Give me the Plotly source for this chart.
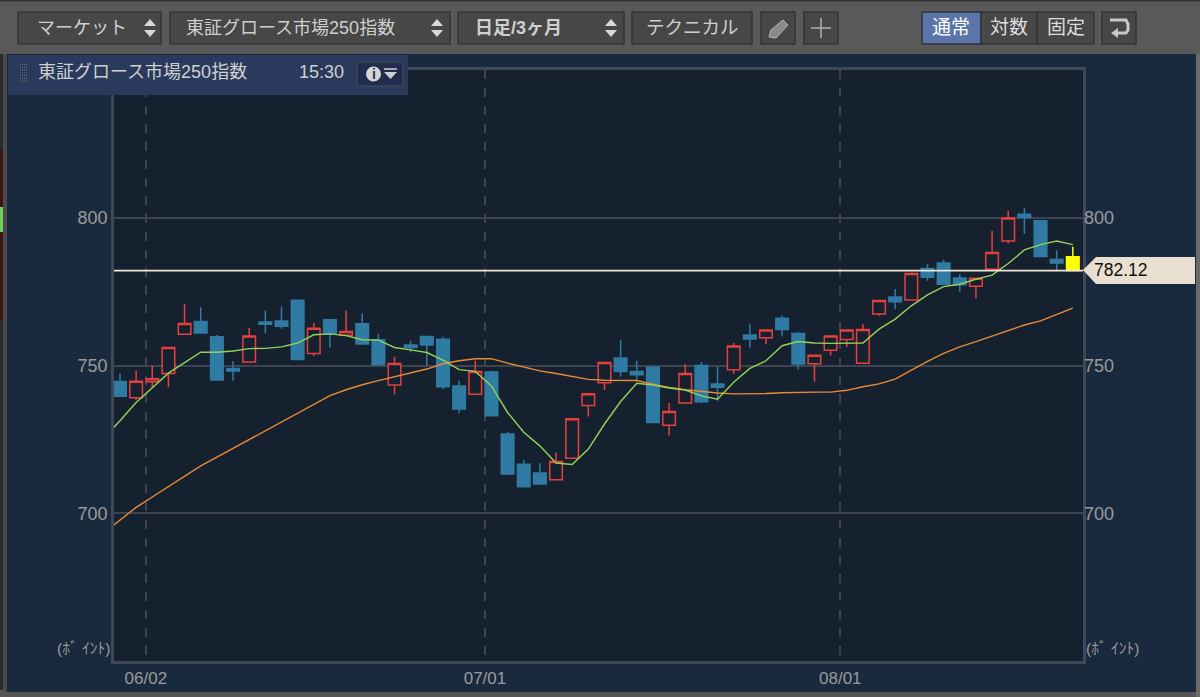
import plotly.graph_objects as go

W, H = 1200, 697

# x is the bar number, 0 = oldest bar
bars = list(range(60))
opens = [744.6, 739.1, 744.5, 747.3, 760.6, 764.9, 759.7, 749.0, 751.2, 764.7,
         765.1, 772.1, 754.1, 765.5, 760.2, 764.1, 758.7, 743.4, 756.9, 759.8,
         758.9, 743.1, 740.3, 747.8, 726.8, 716.6, 713.6, 711.3, 718.6, 736.5,
         744.2, 752.5, 748.0, 749.4, 729.8, 737.3, 750.0, 743.7, 748.6, 760.3,
         759.4, 766.0, 760.8, 750.6, 755.2, 758.8, 750.8, 767.4, 773.2, 772.2,
         782.8, 784.7, 779.6, 776.8, 782.6, 792.1, 801.2, 799.0, 785.9, 786.8]
highs = [747.3, 748.2, 749.8, 756.1, 770.8, 769.7, 760.3, 751.4, 762.7, 768.5,
         769.9, 772.1, 764.4, 765.5, 768.5, 767.7, 760.6, 753.0, 758.4, 759.8,
         759.7, 744.8, 751.6, 748.2, 727.6, 718.0, 716.9, 720.6, 732.0, 740.4,
         751.0, 758.7, 751.6, 749.4, 737.3, 750.5, 751.2, 749.6, 757.6, 764.2,
         762.0, 766.8, 761.4, 753.5, 760.0, 762.0, 764.0, 772.0, 775.9, 781.5,
         784.3, 785.8, 781.0, 779.5, 795.6, 802.4, 803.3, 799.0, 789.0, 790.2]
lows = [739.6, 738.3, 742.6, 742.6, 760.6, 761.0, 745.1, 744.8, 751.2, 760.9,
        762.4, 752.0, 753.2, 756.1, 760.2, 757.3, 749.8, 740.3, 754.4, 749.9,
        741.9, 733.8, 740.3, 733.0, 713.3, 709.0, 709.9, 711.3, 718.6, 732.7,
        741.7, 746.2, 744.8, 730.7, 726.3, 737.3, 737.2, 738.1, 747.1, 756.1,
        757.2, 759.8, 748.7, 744.5, 753.4, 756.3, 750.8, 766.8, 769.0, 772.0,
        778.7, 777.5, 775.0, 772.7, 782.3, 791.3, 794.5, 786.9, 782.3, 782.12]
closes = [739.6, 744.7, 745.5, 756.1, 764.2, 761.0, 745.1, 748.1, 760.0, 764.0,
          763.3, 752.0, 762.6, 760.6, 761.5, 757.3, 750.3, 750.7, 756.1, 756.9,
          742.8, 735.3, 748.0, 733.0, 713.3, 709.0, 709.9, 717.5, 732.0, 740.4,
          751.0, 748.0, 746.9, 730.7, 734.4, 747.3, 737.7, 742.6, 756.6, 759.0,
          762.0, 762.2, 750.5, 753.5, 760.0, 762.0, 762.2, 772.0, 771.6, 781.1,
          779.9, 777.5, 777.3, 779.5, 788.2, 799.9, 800.1, 786.9, 784.7, 782.12]

# moving averages start one bar before the window so they run off the left edge
ma_x = list(range(-1, 60))
ma_short = [725.5, 731.3, 737.5, 742.4, 747.4, 751.0, 754.5, 754.5, 754.9, 755.7, 755.8,
            756.3, 757.6, 760.4, 760.7, 760.1, 758.7, 758.6, 756.1, 755.3, 754.4,
            751.8, 748.6, 748.0, 743.1, 734.1, 727.4, 722.8, 717.0, 716.5, 721.7,
            730.2, 737.8, 744.0, 743.4, 742.4, 741.7, 739.7, 738.6, 744.3, 749.0,
            751.6, 756.7, 758.1, 757.6, 757.5, 757.6, 757.6, 762.3, 765.7, 770.2,
            773.9, 776.7, 777.5, 779.2, 780.6, 784.5, 789.1, 790.9, 792.1, 790.9]
ma_long = [693.3, 697.5, 702.0, 705.5, 709.0, 712.5, 716.0, 719.0, 722.0, 725.0, 727.8,
           730.8, 734.0, 737.0, 739.8, 741.8, 743.5, 744.9, 746.2, 747.3, 748.8,
           750.6, 751.6, 752.3, 752.3, 750.8, 749.6, 748.2, 747.3, 746.3, 745.3,
           745.0, 745.0, 744.9, 743.7, 742.6, 741.8, 741.2, 740.7, 740.4, 740.4,
           740.5, 740.8, 741.0, 741.0, 741.0, 741.6, 742.8, 743.8, 745.4, 748.4,
           751.4, 754.1, 756.3, 758.1, 760.0, 761.8, 763.7, 765.1, 767.3, 769.4]

last_price = 782.12
y_ticks = [700, 750, 800]
month_pos = [1.6, 22.6, 44.6]
month_labels = ["06/02", "07/01", "08/01"]

FONT = "Liberation Sans, Noto Sans CJK JP, sans-serif"
PLOT_BG = "#15212f"
PANEL_BG = "#1a2a3e"
BAR_BG = "#595959"
BTN = "#474747"
BTN_EDGE = "#343434"
BLUE = "#2f7ba3"
RED = "#e5403f"
GREY = "#9a9a9a"
FRAME = "#3f4858"
GRID = "#3d4450"


def px(x):
    return x / W


def py(y):
    return 1 - y / H


shapes = []
notes = []


def rect(x0, y0, x1, y1, fill, edge=None, width=1, layer="below"):
    shapes.append(dict(type="rect", xref="paper", yref="paper", x0=px(x0), x1=px(x1), y0=py(y1), y1=py(y0),
                       fillcolor=fill, line=dict(color=edge or fill, width=width if edge else 0), layer=layer))


def poly(points, fill="rgba(0,0,0,0)", edge=None, width=1.5, layer="above", close=True):
    path = "M " + " L ".join(f"{px(a):.5f},{py(b):.5f}" for a, b in points)
    if close:
        path += " Z"
    shapes.append(dict(type="path", xref="paper", yref="paper", path=path, fillcolor=fill,
                       line=dict(color=edge or "rgba(0,0,0,0)", width=width if edge else 0), layer=layer))


def text(x, y, s, size=18, color="#cfcfcf", anchor="left", weight=None):
    label = f"<b>{s}</b>" if weight else s
    notes.append(dict(xref="paper", yref="paper", x=px(x), y=py(y), text=label, showarrow=False, xanchor=anchor,
                      yanchor="middle", font=dict(family=FONT, size=size, color=color)))


def updown(cx, cy):
    poly([(cx - 6, cy - 2), (cx + 6, cy - 2), (cx, cy - 9)], fill="#d8d8d8")
    poly([(cx - 6, cy + 2), (cx + 6, cy + 2), (cx, cy + 9)], fill="#d8d8d8")


# window pieces
rect(0, 0, W, H, "#555555")
rect(0, 54, 3, 690, "#2b2c2e")
rect(0, 150, 3, 320, "#3d1516")
rect(0, 207, 3, 232, "#6fd05a")
rect(3, 54, 8, 692, "#4a4a4a")
rect(1196, 54, W, H, "#6a6a6a")
rect(7, 54, 1196, 692, PANEL_BG)
rect(114, 70, 1083, 661, PLOT_BG)
rect(0, 0, W, 54, BAR_BG)
rect(0, 0, W, 1.5, "#333333")

# toolbar
for x0, x1 in [(18, 161), (170, 450), (458, 624), (632, 752), (761, 795), (804, 838), (1102, 1136)]:
    rect(x0, 12, x1, 44, BTN, BTN_EDGE, 1.5)
rect(922, 12, 981, 44, "#5b75a8", BTN_EDGE, 1.5)
rect(981, 12, 1037, 44, BTN, BTN_EDGE, 1.5)
rect(1037, 12, 1094, 44, BTN, BTN_EDGE, 1.5)

text(35, 28, "マーケット", 18)
updown(150, 28)
text(184, 28, "東証グロース市場250指数", 18)
updown(437, 28)
text(473, 28, "日足/3ヶ月", 18, weight=True)
updown(611, 28)
text(692, 28, "テクニカル", 18.5, anchor="center")
text(951, 28, "通常", 19, color="#ffffff", anchor="center")
text(1009, 28, "対数", 19, color="#dddddd", anchor="center")
text(1066, 28, "固定", 19, color="#dddddd", anchor="center")

poly([(769, 37), (771, 30), (783, 20), (788, 25), (776, 38)], fill="#8a8a8a", edge="#b5b5b5", width=1)
poly([(821, 18), (821, 38)], edge="#b0b0b0", close=False)
poly([(811, 28), (831, 28)], edge="#b0b0b0", close=False)
poly([(1110, 20), (1126, 20), (1128, 24), (1128, 30), (1126, 33), (1118, 33)], edge="#c8c8c8", width=3, close=False)
poly([(1118, 28), (1118, 38), (1111, 33)], fill="#c8c8c8")

# legend tab over the chart frame
rect(8, 55, 408, 95, "#2a3a5c", layer="above")
for row in range(7):
    for col in range(4):
        rect(20 + col * 2, 64 + row * 2.8, 21 + col * 2, 65 + row * 2.8, "#6b7688", layer="above")
text(36, 72, "東証グロース市場250指数", 18)
text(297, 72, "15:30", 18)
rect(357, 62, 403, 86, "#222d4e", "#3c4558", 1.5, layer="above")
shapes.append(dict(type="circle", xref="paper", yref="paper", x0=px(366), x1=px(381), y0=py(81.5), y1=py(66.5),
                   fillcolor="#d5d5d5", line=dict(width=0), layer="above"))
text(373.5, 74, "<b>i</b>", 14, color="#222d4e", anchor="center")
poly([(384, 69), (397, 69)], edge="#d0d0d0", width=1.5, close=False)
poly([(384, 72), (397, 72), (390.5, 79)], fill="#d0d0d0")

# price flag on the right
poly([(1083, 270), (1096, 257), (1195, 257), (1195, 284), (1096, 284)], fill="#e9dfd0")
text(1092, 270, f"{last_price:.2f}", 17.5, color="#111111")

# unit labels
text(112, 648, "(ﾎﾞ ｲﾝﾄ)", 15.5, color=GREY, anchor="right")
text(1084, 648, "(ﾎﾞ ｲﾝﾄ)", 15.5, color=GREY)

fig = go.Figure()

# red hollow = up, blue solid = down, yellow = the bar still open on screen
fig.add_trace(go.Candlestick(
    x=bars[:-1], open=opens[:-1], high=highs[:-1], low=lows[:-1], close=closes[:-1],
    increasing=dict(line=dict(color=RED, width=1.5), fillcolor=PLOT_BG),
    decreasing=dict(line=dict(color=BLUE, width=1.5), fillcolor=BLUE),
    whiskerwidth=0, showlegend=False,
))
fig.add_trace(go.Candlestick(
    x=bars[-1:], open=opens[-1:], high=highs[-1:], low=lows[-1:], close=closes[-1:],
    increasing=dict(line=dict(color="#ffff00", width=1.5), fillcolor="#ffff00"),
    decreasing=dict(line=dict(color="#ffff00", width=1.5), fillcolor="#ffff00"),
    whiskerwidth=0, showlegend=False,
))
fig.add_trace(go.Scatter(x=ma_x, y=ma_long, mode="lines", line=dict(color="#e98a35", width=1.4), showlegend=False))
fig.add_trace(go.Scatter(x=ma_x, y=ma_short, mode="lines", line=dict(color="#93d257", width=1.4), showlegend=False))
fig.add_trace(go.Scatter(x=[-1, 60], y=[last_price, last_price], mode="lines",
                         line=dict(color="#efe6d6", width=1.6), showlegend=False))
# empty trace so the right hand scale gets drawn
fig.add_trace(go.Scatter(x=[None], y=[None], yaxis="y2", showlegend=False))

x_font = dict(family=FONT, size=17, color=GREY)
y_font = dict(family=FONT, size=18, color=GREY)
fig.update_layout(
    width=W, height=H, autosize=False,
    margin=dict(l=0, r=0, t=0, b=0),
    paper_bgcolor=PANEL_BG, plot_bgcolor=PLOT_BG,
    boxgap=0.22, boxgroupgap=0, shapes=shapes, annotations=notes, showlegend=False,
    xaxis=dict(domain=[px(114), px(1083)], range=[-0.37, 59.63], rangeslider=dict(visible=False),
               tickmode="array", tickvals=month_pos, ticktext=month_labels, ticks="",
               tickfont=x_font, showgrid=True, gridcolor=GRID, griddash="dash", gridwidth=1.5,
               showline=True, linecolor=FRAME, linewidth=2.5, mirror=True, zeroline=False),
    yaxis=dict(domain=[py(661), py(70)], range=[650, 850], tickmode="array", tickvals=y_ticks,
               ticks="", tickfont=y_font, showgrid=True, gridcolor=GRID, gridwidth=1.5,
               showline=True, linecolor=FRAME, linewidth=2.5, mirror=True, zeroline=False),
    yaxis2=dict(overlaying="y", side="right", range=[650, 850], tickmode="array", tickvals=y_ticks,
                ticks="", tickfont=y_font, showgrid=False, zeroline=False),
)

# the page's default body margin would push the whole window 8px off
fig.write_html("out.html", config={"displayModeBar": False}, post_script="document.body.style.margin='0';")
